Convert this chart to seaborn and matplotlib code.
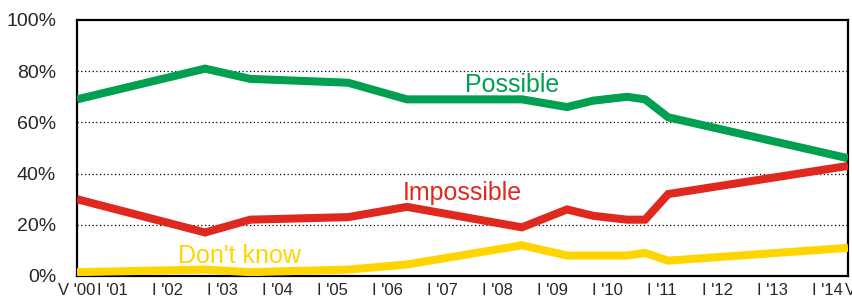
import matplotlib
matplotlib.use("Agg")
import matplotlib.pyplot as plt
import seaborn as sns
import pandas as pd

# Survey dates (fractional years)
survey_dates = [2000.36, 2002.69, 2003.51, 2005.29, 2006.36, 2008.45,
                2009.27, 2009.75, 2010.36, 2010.69, 2011.11, 2014.38]
possible = [69, 81, 77, 75.5, 69, 69, 66, 68.5, 70, 69, 62, 46]
impossible = [30, 17, 22, 23, 27, 19, 26, 23.5, 22, 22, 32, 43]
dont_know = [1.5, 2.5, 1.5, 2.5, 4.5, 12, 8, 8, 8, 9, 6, 11]

series_names = ["Possible", "Impossible", "Don't know"]
series_colors = ["#00A050", "#E0291E", "#FFD500"]

tick_positions = [2000.36] + list(range(2001, 2015))
tick_labels = ["V '00", "I '01", "I '02", "I '03", "I '04", "I '05", "I '06",
               "I '07", "I '08", "I '09", "I '10", "I '11", "I '12", "I '13", "I '14"]
last_label = "V '14"
last_label_pos = 2014.66

y_ticks = [0, 20, 40, 60, 80, 100]
y_labels = ["0%", "20%", "40%", "60%", "80%", "100%"]

df = pd.DataFrame({
    "date": survey_dates * 3,
    "value": possible + impossible + dont_know,
    "series": [series_names[0]] * len(possible)
              + [series_names[1]] * len(impossible)
              + [series_names[2]] * len(dont_know),
})

sns.set_style("white")
plt.rcParams["font.family"] = ["Liberation Sans", "DejaVu Sans"]

fig = plt.figure(figsize=(8.53, 2.97), dpi=100)
ax = fig.add_axes([77 / 853, 21 / 297, (848 - 77) / 853, (276 - 20) / 297])

sns.lineplot(data=df, x="date", y="value", hue="series",
             hue_order=series_names[::-1],
             palette=dict(zip(series_names, series_colors)),
             linewidth=5.8, legend=False, ax=ax, zorder=3)
for ln in ax.lines:
    ln.set_solid_capstyle("butt")
    ln.set_solid_joinstyle("miter")

ax.set_xlim(2000.36, 2014.38)
ax.set_ylim(0, 100)
ax.set_yticks(y_ticks)
ax.set_yticklabels(y_labels, fontsize=14)
ax.set_xticks(tick_positions)
ax.set_xticklabels(tick_labels, fontsize=12)
ax.tick_params(axis="y", length=0, pad=15)
ax.tick_params(axis="x", length=0, pad=5)
ax.text(last_label_pos, -0.028, last_label, transform=ax.get_xaxis_transform(),
        ha="center", va="top", fontsize=12, clip_on=False)
ax.set_xlabel("")
ax.set_ylabel("")

for yv in y_ticks[1:-1]:
    ax.axhline(yv, color="black", linestyle=(0, (1, 2)), linewidth=0.9, zorder=1)

for s in ax.spines.values():
    s.set_visible(True)
    s.set_color("black")
    s.set_linewidth(1.6)

ax.text(2007.42, 71.7, "Possible", color=series_colors[0], fontsize=18, va="baseline", ha="left")
ax.text(2006.29, 29.6, "Impossible", color=series_colors[1], fontsize=18, va="baseline", ha="left")
ax.text(2002.2, 5.1, "Don't know", color=series_colors[2], fontsize=18, va="baseline", ha="left")

fig.savefig("out.png", dpi=100)
